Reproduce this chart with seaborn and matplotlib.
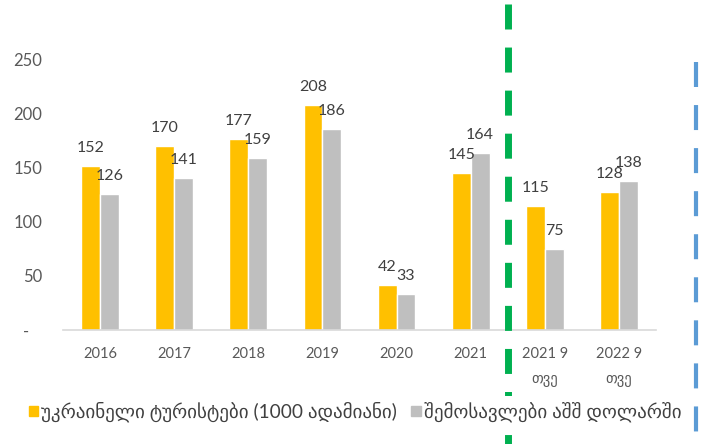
import matplotlib
matplotlib.use("Agg")
import matplotlib.pyplot as plt
import matplotlib.patches as mpatches
from matplotlib.lines import Line2D
import matplotlib.transforms as mtransforms
import seaborn as sns
import pandas as pd

categories = ["2016", "2017", "2018", "2019", "2020", "2021", "2021 9\nთვე", "2022 9\nთვე"]
tourists = [152, 170, 177, 208, 42, 145, 115, 128]
revenue = [126, 141, 159, 186, 33, 164, 75, 138]
series_names = ["უკრაინელი ტურისტები (1000 ადამიანი)", "შემოსავლები აშშ დოლარში"]
yticks = [0, 50, 100, 150, 200, 250]
ytick_labels = ["-   ", "50", "100", "150", "200", "250"]

YELLOW = "#FFC000"
GREY = "#BFBFBF"
GREEN = "#00B050"
BLUE = "#5B9BD5"

sns.set_style("white")
plt.rcParams["font.family"] = ["Lato", "DejaVu Sans"]
plt.rcParams["lines.scale_dashes"] = False

df = pd.DataFrame({
    "cat": categories * 2,
    "value": tourists + revenue,
    "series": [series_names[0]] * len(categories) + [series_names[1]] * len(categories),
})

fig = plt.figure(figsize=(7.02, 4.44), dpi=100)
ax = fig.add_axes([63 / 702, 114 / 444, 593 / 702, 270 / 444])

sns.barplot(data=df, x="cat", y="value", hue="series", palette=[YELLOW, GREY],
            width=0.51, ax=ax, legend=False, saturation=1, errorbar=None)

for c in ax.containers:
    ax.bar_label(c, padding=8, fontsize=11.5, color="#404040")

ax.set_ylim(0, 250)
ax.set_xlim(-0.5, len(categories) - 0.5)
ax.set_yticks(yticks)
ax.set_yticklabels(ytick_labels)
ax.set_xlabel("")
ax.set_ylabel("")
for s in ["left", "right", "top"]:
    ax.spines[s].set_visible(False)
ax.spines["bottom"].set_color("#D9D9D9")
ax.spines["bottom"].set_linewidth(1.2)
ax.tick_params(axis="y", length=0, pad=15, labelsize=12, labelcolor="#595959")
ax.tick_params(axis="x", length=0, pad=12, labelsize=10.5, labelcolor="#595959")
for t in ax.get_xticklabels():
    t.set_linespacing(2.0)

# green dashed separator (data x, figure y)
trans = mtransforms.blended_transform_factory(ax.transData, fig.transFigure)
fig.add_artist(Line2D([5.5, 5.5], [1 - 4 / 444, 0], transform=trans, color=GREEN,
                      linewidth=5, dashes=(18, 13), solid_capstyle="butt",
                      dash_capstyle="butt", zorder=1))
# blue dashed line at the right edge
fig.add_artist(Line2D([696 / 702, 696 / 702], [1 - 62 / 444, 0], transform=fig.transFigure,
                      color=BLUE, linewidth=3, dashes=(18, 13), dash_capstyle="butt",
                      zorder=12))

handles = [mpatches.Patch(color=YELLOW, label=series_names[0]),
           mpatches.Patch(color=GREY, label=series_names[1])]
leg = fig.legend(handles=handles, loc="center", bbox_to_anchor=(355 / 702, 1 - 412 / 444),
                 ncol=2, frameon=True, facecolor="white", edgecolor="none", framealpha=1,
                 fancybox=False, fontsize=13.7, handlelength=0.5, handleheight=0.5,
                 handletextpad=0.15, columnspacing=0.75, labelcolor="#404040",
                 borderpad=0.3, borderaxespad=0)
leg.set_zorder(10)

fig.savefig("out.png", dpi=100)
